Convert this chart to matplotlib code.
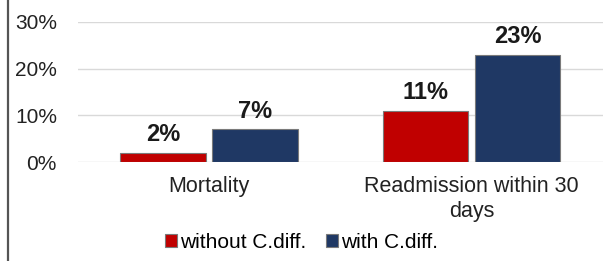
import numpy as np
import matplotlib.pyplot as plt
from matplotlib.lines import Line2D
from matplotlib.ticker import PercentFormatter

plt.rcParams['font.family'] = ['Liberation Sans', 'DejaVu Sans']

# datos
categories = ['Mortality', 'Readmission within 30\ndays']
without_cdiff = [2, 11]
with_cdiff = [7, 23]
series_names = ['without C.diff.', 'with C.diff.']

fig = plt.figure(figsize=(6.03, 2.61), dpi=100)
ax = fig.add_axes([0.129, 0.379, 0.871, 0.537])

x = np.arange(len(categories))
w = 0.325
b1 = ax.bar(x - 0.175, without_cdiff, w, color='#C00000', edgecolor='#7a7a7a',
            linewidth=0.8, label=series_names[0], zorder=3)
b2 = ax.bar(x + 0.175, with_cdiff, w, color='#1F3864', edgecolor='#7a7a7a',
            linewidth=0.8, label=series_names[1], zorder=3)

# etiquetas de valor
for bars, vals in [(b1, without_cdiff), (b2, with_cdiff)]:
    for r, v in zip(bars, vals):
        ax.text(r.get_x() + r.get_width() / 2, v + 1.4, f'{v}%', ha='center',
                va='bottom', fontsize=17, fontweight='bold', color='#1a1a1a')

ax.set_xlim(-0.5, 1.5)
ax.set_ylim(0, 30)
ax.set_yticks([0, 10, 20, 30])
ax.yaxis.set_major_formatter(PercentFormatter(decimals=0))
ax.set_xticks(x)
ax.set_xticklabels(categories, linespacing=1.25)
ax.tick_params(axis='y', length=0, pad=15, labelsize=15, labelcolor='#222222')
ax.tick_params(axis='x', length=0, pad=10, labelsize=15.5, labelcolor='#222222')
ax.grid(axis='y', color='#d9d9d9', linewidth=1, zorder=0)
for s in ax.spines.values():
    s.set_visible(False)

fig.legend(loc='center', bbox_to_anchor=(0.5, 0.072), ncol=2, frameon=False,
           fontsize=15, handlelength=0.6, handleheight=0.6, handletextpad=0.15,
           columnspacing=0.9, borderpad=0)

# borde izquierdo
fig.add_artist(Line2D([0.014, 0.014], [0, 1], color='#555555', linewidth=1.6,
                      transform=fig.transFigure))

fig.savefig('out.png', dpi=100)
